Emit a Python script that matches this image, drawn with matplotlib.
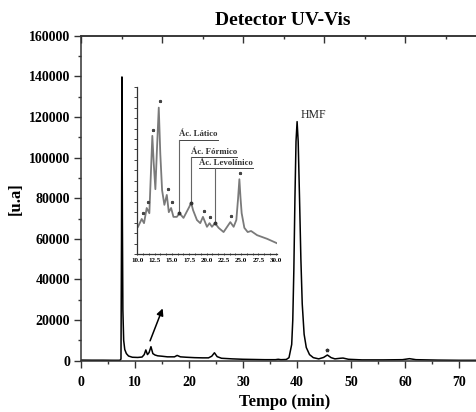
import numpy as np
import matplotlib.pyplot as plt
from matplotlib.ticker import MultipleLocator, AutoMinorLocator

plt.rcParams['font.family'] = ['Liberation Serif', 'DejaVu Serif']
plt.rcParams['font.weight'] = 'bold'

# chromatogram, full run (min, u.a)
tempo = [0, 2, 4, 6, 7.2, 7.4, 7.5, 7.58, 7.66, 7.75, 7.9, 8.1, 8.4, 8.8, 9.5,
         10.5, 11.3, 11.7, 12.0, 12.3, 12.6, 12.95, 13.3, 13.7, 14.2, 15.0, 16.0,
         17.3, 17.8, 18.4, 19.5, 21.0, 22.5, 23.6, 24.2, 24.7, 25.2, 26.0, 28.0,
         30.0, 34.0, 36.0, 36.5, 37.0, 38.0, 38.5, 39.0, 39.2, 39.4, 39.6, 39.8,
         40.0, 40.2, 40.45, 40.7, 40.95, 41.3, 41.7, 42.3, 43.0, 44.0, 44.9,
         45.6, 46.3, 47.0, 48.0, 48.5, 49.5, 52.0, 56.0, 59.5, 60.8, 62.0, 66.0,
         70.0, 73.3]
sinal = [300, 250, 250, 200, 200, 800, 60000, 139700, 70000, 25000, 10000, 5500,
         3500, 2300, 1700, 1600, 1800, 3000, 5300, 3000, 4000, 6900, 3500, 2800,
         2400, 2200, 1900, 1900, 2600, 1900, 1700, 1500, 1400, 1400, 2200, 3900,
         2000, 1200, 900, 700, 500, 500, 700, 500, 600, 1500, 8000, 20000, 45000,
         80000, 108000, 117700, 108000, 80000, 50000, 28000, 13000, 6500, 3000,
         1500, 900, 1600, 2800, 1500, 900, 1200, 1300, 700, 400, 400, 500,
         1000, 500, 300, 200, 200]

# zoom 10-30 min (arbitrary scale)
tempo_zoom = [10.1, 10.64, 10.97, 11.36, 11.74, 11.95, 12.17, 12.38, 12.61, 12.85,
              13.1, 13.32, 13.58, 13.91, 14.26, 14.55, 14.88, 15.22, 15.71, 16.09,
              16.67, 17.5, 17.78, 18.05, 18.61, 19.09, 19.48, 20.06, 20.43, 20.78,
              21.22, 21.74, 22.46, 23.43, 23.91, 24.3, 24.55, 24.74, 24.9, 25.07,
              25.46, 25.94, 26.43, 27.3, 28.75, 30.1]
sinal_zoom = [2.6, 3.35, 2.95, 4.4, 3.9, 7.5, 11.3, 8.6, 6.2, 10.2, 14.0, 9.6, 6.1,
              4.7, 5.65, 4.0, 4.4, 3.55, 3.55, 3.9, 3.45, 4.5, 4.9, 4.2, 3.25, 2.95,
              3.55, 2.6, 2.95, 2.6, 2.95, 2.5, 2.1, 3.05, 2.6, 3.25, 5.3, 7.15, 5.4,
              3.9, 2.5, 2.1, 2.2, 1.8, 1.45, 1.05]

# peaks marked with * in the zoom
picos_t = [10.64, 11.36, 12.17, 13.1, 14.26, 14.88, 19.48, 20.43, 23.43, 24.74]
picos_u = [3.35, 4.4, 11.3, 14.0, 5.65, 4.4, 3.55, 2.95, 3.05, 7.15]

# identified acids: (label, peak time, peak height)
acidos = [("Ác. Lático", 16.09, 3.9),
          ("Ác. Fórmico", 17.78, 4.9),
          ("Ác. Levolínico", 21.22, 2.95)]

W, H = 477, 412
fig = plt.figure(figsize=(W / 100, H / 100), dpi=100)
ax = fig.add_axes([81 / W, 1 - 360.7 / H, (W - 81) / W, 325 / H])

ax.plot(tempo, sinal, color='black', lw=1.1)
ax.set_xlim(0, 73.3)
ax.set_ylim(0, 160000)
ax.xaxis.set_major_locator(MultipleLocator(10))
ax.xaxis.set_minor_locator(MultipleLocator(5))
ax.yaxis.set_major_locator(MultipleLocator(20000))
ax.yaxis.set_minor_locator(MultipleLocator(10000))
ax.tick_params(which='major', direction='out', length=5, width=1, labelsize=10, color='#333333')
ax.tick_params(which='minor', direction='out', length=2.5, width=1, color='#333333')
ax.tick_params(axis='x', pad=6)
ax.tick_params(axis='y', pad=3)
for s in ['left', 'bottom', 'top']:
    ax.spines[s].set_linewidth(1.1)
    ax.spines[s].set_color('#333333')
ax.spines['right'].set_visible(False)

top = ax.secondary_xaxis('top')
top.xaxis.set_major_locator(MultipleLocator(15))
top.xaxis.set_minor_locator(MultipleLocator(7.5))
top.tick_params(which='major', direction='in', length=5, width=1, labeltop=False, color='#333333')
top.tick_params(which='minor', direction='in', length=2.5, width=1, color='#333333')
top.spines['top'].set_linewidth(1.1)
top.spines['top'].set_color('#333333')

ax.set_xlabel('Tempo (min)', fontsize=12, fontweight='bold')
ax.xaxis.set_label_coords(0.514, -0.126)
ax.xaxis.label.set_va('center')
ax.set_ylabel('[u.a]', fontsize=12, fontweight='bold')
ax.yaxis.set_label_coords(-0.164, 0.50)
ax.yaxis.label.set_va('center')
ax.text(0.509, 1.048, 'Detector UV-Vis', transform=ax.transAxes, ha='center', va='center',
        fontsize=14, fontweight='bold')

i_hmf = int(np.argmax([v if t > 30 else 0 for t, v in zip(tempo, sinal)]))
ax.text(tempo[i_hmf] + 3.0, sinal[i_hmf] + 3500, 'HMF', ha='center', va='center',
        fontsize=8.5, fontweight='normal', color='#222222')
ax.plot([45.6], [5200], marker='*', ms=2.5, color='#333333', lw=0)
ax.annotate('', xy=(15.3, 27000), xytext=(12.6, 8500),
            arrowprops=dict(arrowstyle='-|>', color='black', lw=1.1, mutation_scale=10))

# inset
ins = fig.add_axes([137.3 / W, 1 - 254 / H, (276.5 - 137.3) / W, (254 - 86.7) / H])
ins.set_facecolor('none')
ins.plot(tempo_zoom, sinal_zoom, color='#7a7a7a', lw=1.3)
ins.plot(np.array(picos_t) + 0.12, np.array(picos_u) + 0.6, '*', ms=2.0, color='#444444', lw=0)
ins.set_xlim(10, 30.1)
ins.set_ylim(0, 16)
ins.xaxis.set_major_locator(MultipleLocator(2.5))
ins.xaxis.set_minor_locator(AutoMinorLocator(3))
ins.xaxis.set_major_formatter('{x:.1f}')
ins.yaxis.set_major_locator(MultipleLocator(1))
ins.tick_params(axis='x', which='both', direction='inout', length=2, width=0.7, labelsize=5,
                pad=2, color='#444444')
ins.tick_params(axis='y', which='both', direction='out', length=2, width=0.7, labelleft=False,
                color='#444444')
for s in ['top', 'right']:
    ins.spines[s].set_visible(False)
for s in ['left', 'bottom']:
    ins.spines[s].set_linewidth(0.9)
    ins.spines[s].set_color('#333333')

# labels of the acids with underline and leader line
label_layout = [(16.09, 10.9), (17.72, 9.27), (18.95, 8.2)]
fig.canvas.draw()
rend = fig.canvas.get_renderer()
for (nome, tp, up), (tx, uy) in zip(acidos, label_layout):
    txt = ins.text(tx, uy + 0.15, nome, ha='left', va='bottom', fontsize=6.3,
                   fontweight='bold', color='#333333')
    bb = txt.get_window_extent(rend).transformed(ins.transData.inverted())
    ins.plot([bb.x0, bb.x1], [uy, uy], color='#444444', lw=0.7)
    ins.plot([tp, tp], [up, uy], color='#666666', lw=0.8)
    ins.plot([tp], [up], 'o', ms=1.8, color='#333333')

fig.savefig('out.png', dpi=100)
